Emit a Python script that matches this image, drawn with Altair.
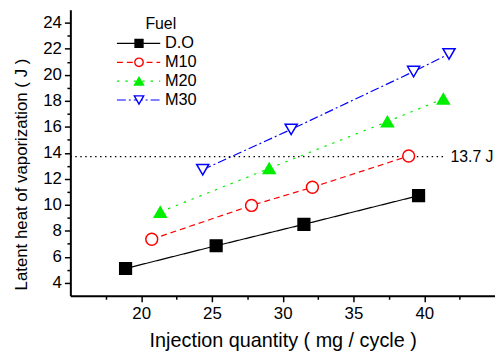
import altair as alt
import pandas as pd

fuels = ["D.O", "M10", "M20", "M30"]
do_x = [18.9, 25.3, 31.5, 39.6]
do_y = [5.1, 6.85, 8.5, 10.7]
m10_x = [20.75, 27.8, 32.1, 38.9]
m10_y = [7.35, 9.95, 11.35, 13.75]
m20_x = [21.35, 29.05, 37.4, 41.35]
m20_y = [9.45, 12.8, 16.4, 18.15]
m30_x = [24.35, 30.6, 39.25, 41.75]
m30_y = [12.7, 15.8, 20.25, 21.6]
ref_value = 13.7
ref_label = "13.7 J"

colors = ["#000000", "#ff0000", "#00ee00", "#0000ff"]
fills = ["#000000", "#ffffff", "#00ee00", "#ffffff"]
shapes = ["square", "circle", "triangle-up", "triangle-down"]
dashes = [[1, 0], [6, 4], [2.5, 6], [9, 3, 2, 3]]
sizes = [140, 150, 200, 190]
legend_sizes = [64, 90, 120, 110]

xs = [do_x, m10_x, m20_x, m30_x]
ys = [do_y, m10_y, m20_y, m30_y]
rows = []
for f, xx, yy in zip(fuels, xs, ys):
    for a, b in zip(xx, yy):
        rows.append({"Fuel": f, "x": a, "y": b})
df = pd.DataFrame(rows)

XD = [15, 45]
YD = [3, 25]
xscale = alt.Scale(domain=XD, nice=False, zero=False)
yscale = alt.Scale(domain=YD, nice=False, zero=False)

col_s = alt.Scale(domain=fuels, range=colors)
fill_s = alt.Scale(domain=fuels, range=fills)
shape_s = alt.Scale(domain=fuels, range=shapes)
dash_s = alt.Scale(domain=fuels, range=dashes)
size_s = alt.Scale(domain=fuels, range=sizes)

FONT = "Liberation Sans"

x_axis = alt.Axis(
    values=[17.5, 20, 22.5, 25, 27.5, 30, 32.5, 35, 37.5, 40, 42.5],
    labelExpr="datum.value % 5 === 0 ? datum.label : ''",
    tickSize={"condition": {"test": "datum.value % 5 === 0", "value": 6}, "value": 3.5},
    title="Injection quantity ( mg / cycle )",
    titleY=51,
    titleBaseline="alphabetic",
    titleFontSize=20,
    labelPadding=4,
    labelOverlap=False,
)
y_axis = alt.Axis(
    values=list(range(4, 25)),
    labelExpr="datum.value % 2 === 0 ? datum.label : ''",
    tickSize={"condition": {"test": "datum.value % 2 === 0", "value": 6}, "value": 3.5},
    title="Latent heat of vaporization ( J )",
    titleX=-49,
    titleY=166,
    titleBaseline="middle",
    titleFontSize=17,
    labelPadding=3,
    labelOverlap=False,
)


def X(field):
    return alt.X(field, type="quantitative", scale=xscale, axis=x_axis)


def Y(field):
    return alt.Y(field, type="quantitative", scale=yscale, axis=y_axis)


base = alt.Chart(df)
lines = base.mark_line(strokeWidth=1.2).encode(
    x=X("x"),
    y=Y("y"),
    color=alt.Color("Fuel:N", scale=col_s, legend=None),
    strokeDash=alt.StrokeDash("Fuel:N", scale=dash_s, legend=None),
    detail="Fuel:N",
)
points = base.mark_point(filled=False, strokeWidth=1.5, opacity=1).encode(
    x=X("x"),
    y=Y("y"),
    stroke=alt.Stroke("Fuel:N", scale=col_s, legend=None),
    fill=alt.Fill("Fuel:N", scale=fill_s, legend=None),
    shape=alt.Shape("Fuel:N", scale=shape_s, legend=None),
    size=alt.Size("Fuel:N", scale=size_s, legend=None),
)

# reference line
ref_df = pd.DataFrame({"x1": [XD[0]], "x2": [41.45], "y": [ref_value], "tx": [41.85], "label": [ref_label]})
ref_rule = alt.Chart(ref_df).mark_rule(color="#000000", strokeDash=[1.5, 3.5], strokeWidth=1.3).encode(
    x=X("x1"), x2="x2:Q", y=Y("y")
)
ref_text = alt.Chart(ref_df).mark_text(align="left", baseline="middle", fontSize=16, font=FONT, color="#000000").encode(
    x=X("tx"), y=Y("y"), text="label:N"
)

# manual legend (in data space)
leg_top = 22.41
leg_step = 1.45
leg_df = pd.DataFrame({
    "Fuel": fuels,
    "ly": [leg_top - i * leg_step for i in range(len(fuels))],
    "lx1": [18.29] * 4,
    "lx2": [21.35] * 4,
    "lxm": [19.85] * 4,
    "lxt": [21.68] * 4,
})
leg_lines = alt.Chart(leg_df).mark_rule(strokeWidth=1.2).encode(
    x=X("lx1"), x2="lx2:Q", y=Y("ly"),
    color=alt.Color("Fuel:N", scale=col_s, legend=None),
    strokeDash=alt.StrokeDash("Fuel:N", scale=dash_s, legend=None),
)
leg_pts = alt.Chart(leg_df).mark_point(filled=False, strokeWidth=1.4, opacity=1).encode(
    x=X("lxm"), y=Y("ly"),
    stroke=alt.Stroke("Fuel:N", scale=col_s, legend=None),
    fill=alt.Fill("Fuel:N", scale=fill_s, legend=None),
    shape=alt.Shape("Fuel:N", scale=shape_s, legend=None),
    size=alt.Size("Fuel:N", scale=alt.Scale(domain=fuels, range=legend_sizes), legend=None),
)
leg_txt = alt.Chart(leg_df).mark_text(align="left", baseline="middle", fontSize=16.5, font=FONT, color="#000000").encode(
    x=X("lxt"), y=Y("ly"), text="Fuel:N"
)
title_df = pd.DataFrame({"tx": [20.3], "ty": [23.93], "t": ["Fuel"]})
leg_title = alt.Chart(title_df).mark_text(align="left", baseline="middle", fontSize=16, font=FONT, color="#000000").encode(
    x=X("tx"), y=Y("ty"), text="t:N"
)

main = alt.layer(lines, ref_rule, ref_text, points)
legend = alt.layer(leg_lines, leg_pts, leg_txt, leg_title)

chart = alt.layer(main, legend).resolve_scale(
    size="independent"
).properties(
    width=429, height=289,
    background="#ffffff",
    autosize=alt.AutoSizeParams(type="none"),
    padding={"left": 63, "top": 0, "right": 0, "bottom": 57},
).configure_axis(
    grid=False,
    labelOverlap=False,
    domainColor="#000000", domainWidth=2,
    tickColor="#000000", tickWidth=1.5,
    labelColor="#000000", labelFont=FONT, labelFontSize=17,
    titleColor="#000000", titleFont=FONT, titleFontWeight="normal",
).configure_view(stroke=None)

chart.save("out.html", embed_options={"renderer": "svg", "actions": False})
